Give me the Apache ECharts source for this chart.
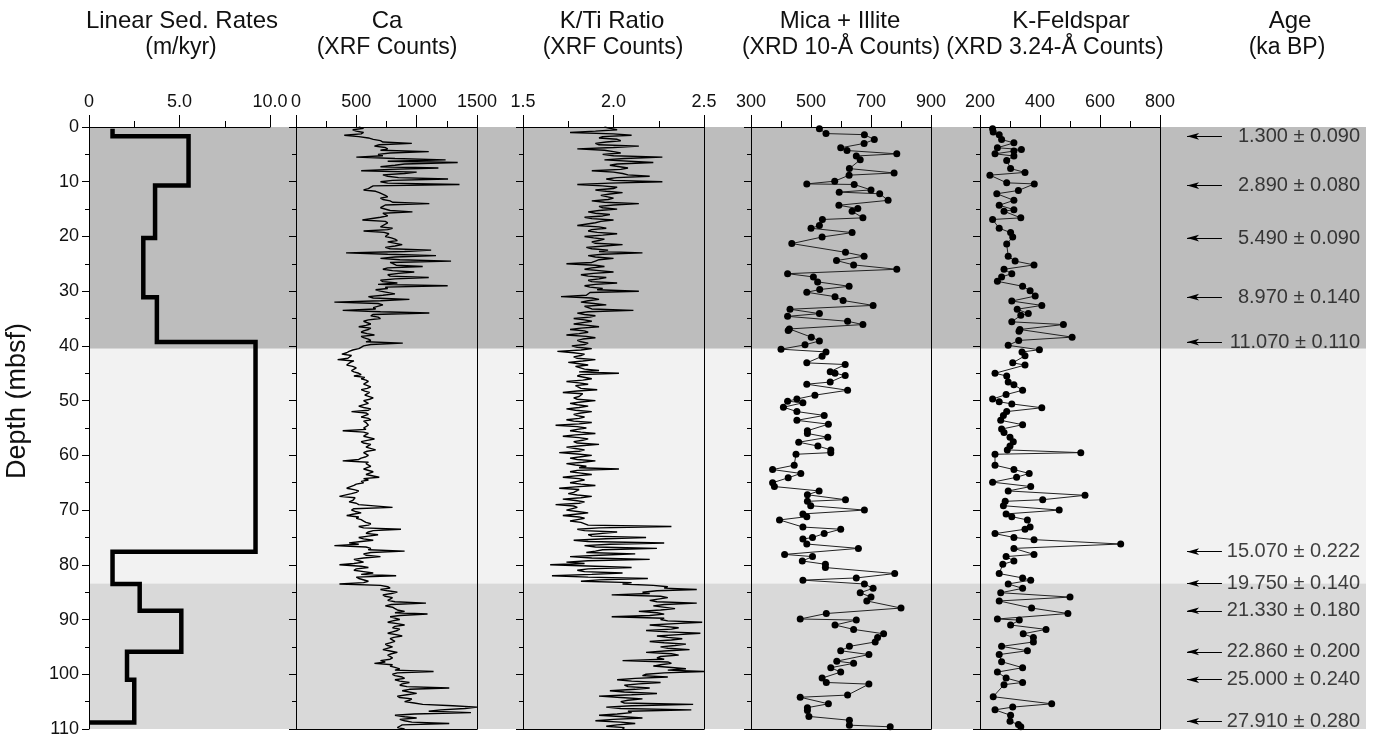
<!DOCTYPE html>
<html><head><meta charset="utf-8">
<script src="https://cdn.jsdelivr.net/npm/echarts@6/dist/echarts.min.js"></script>
<style>html,body{margin:0;padding:0;background:#fff}#c{width:1378px;height:739px}</style>
</head><body><div id="c"></div>
<script>
// ---------------- DATA ----------------
// Shaded depth intervals (m)
const bandTop    = [0, 40.5, 83.4];
const bandBottom = [40.5, 83.4, 110];

// Linear sedimentation rates (m/kyr) between depth boundaries (m)
const sedBounds = [0.3, 1.7, 10.7, 20.3, 31.1, 39.3, 77.6, 83.5, 88.4, 95.9, 101.0, 108.8];
const sedRates  = [1.3, 5.5, 3.65, 3.0, 3.75, 9.2, 1.3, 2.8, 5.1, 2.1, 2.5];

// Ca XRF counts at 0, 0.5, 1.0 ... 110 m
const caStartDepth = 0, caStep = 0.5;
const caVals = [
 520,470,560,400,600,
 700,960,650,760,1100,680,
 500,1240,1340,820,1180,540,900,760,1260,700,1355,
 620,560,690,
 740,700,780,1105,720,690,965,740,700,550,760,720,800,560,770,740,
 820,760,880,740,1120,415,1160,700,1285,780,1050,720,980,760,1100,700,
 840,1257,760,700,820,600,940,318,720,640,387,1105,620,700,
 560,620,520,600,540,650,560,620,885,560,520,
 440,380,470,345,450,420,500,460,520,480,
 540,600,560,620,540,610,570,640,560,600,520,620,460,600,540,620,580,600,560,
 387,600,560,650,540,620,580,660,560,600,540,387,580,620,560,640,580,690,600,560,
 480,420,520,460,360,500,440,520,800,460,540,420,500,
 560,620,520,870,600,680,520,640,440,318,620,900,560,700,480,
 560,360,600,480,640,830,520,600,360,
 760,700,840,720,800,760,1077,740,
 820,900,1090,780,860,760,900,800,840,760,880,780,
 820,740,800,720,840,760,800,700,650,780,860,1140,
 800,880,820,940,860,1270,
 880,1000,840,960,900,1050,
 1500,1200,1450,
 820,1000,900,1270,860,900
];
// Ca XRF counts at 0.25, 0.75 ... 109.75 m
const caValsMid = [
 560,500,540,520,
 640,720,690,740,700,780,
 720,820,760,900,700,780,1000,720,850,800,760,
 640,600,660,
 700,760,720,800,740,700,780,720,760,690,740,770,700,760,730,780,
 790,840,760,820,780,900,760,820,860,780,830,760,800,850,780,820,
 720,680,740,660,700,720,640,700,680,720,660,700,640,680,
 600,560,580,620,560,590,540,600,580,620,540,
 470,420,460,430,480,440,470,500,480,540,
 570,580,600,560,590,570,600,580,610,570,590,560,600,580,570,600,560,590,580,
 580,560,600,570,590,560,610,570,590,560,580,520,600,570,590,560,610,580,560,540,
 500,470,480,500,460,490,470,500,520,480,490,470,520,
 540,580,600,560,640,580,600,560,540,520,580,600,620,580,560,
 520,480,540,500,560,540,500,520,560,
 700,780,760,790,740,780,820,790,
 800,840,820,860,820,800,840,820,860,800,830,810,
 790,780,760,800,780,790,760,780,740,800,820,820,
 840,820,900,860,880,920,
 940,880,920,860,940,980,
 1300,1400,1100,
 980,900,860,960,880,840
];

// K/Ti ratio at 0, 0.5 ... 110 m
const ktiStartDepth = 0, ktiStep = 0.5;
const ktiVals = [
 1.95,2.02,1.76,2.10,1.92,2.04,1.90,2.14,1.80,2.00,1.94,
 2.27,1.95,2.22,1.98,2.08,1.88,2.05,2.20,1.96,2.27,
 1.80,2.02,1.90,2.05,1.93,2.00,1.88,2.14,1.92,2.02,
 1.86,1.98,1.84,2.00,1.90,1.80,1.96,1.86,2.02,1.84,1.95,1.88,2.05,1.85,1.97,2.16,1.86,2.00,1.90,1.74,
 1.95,1.84,2.00,1.82,1.96,1.86,2.02,1.84,1.94,2.14,
 1.86,1.71,1.92,1.82,1.96,1.84,2.11,1.80,1.90,1.78,
 1.88,1.78,1.92,1.76,1.86,1.74,1.90,1.80,1.86,1.77,
 1.88,1.69,1.84,1.78,1.90,1.75,1.86,1.78,1.92,2.03,1.80,1.88,1.74,1.86,1.78,1.91,1.72,1.84,1.78,1.90,
 1.76,1.86,1.74,1.88,1.78,1.84,1.74,1.88,1.68,1.85,
 1.76,1.90,1.72,1.86,1.78,1.92,1.74,1.84,1.70,1.88,1.76,1.90,1.74,1.85,2.03,1.76,1.88,1.72,1.84,1.76,1.90,1.70,1.82,1.75,1.88,1.72,1.84,1.68,1.80,1.74,
 1.86,1.72,1.84,1.76,1.82,
 2.32,1.80,2.02,1.86,2.18,1.78,2.28,1.84,2.24,1.90,2.12,1.76,2.20,1.74,1.65,2.10,1.80,2.05,1.66,2.19,1.82,2.05,
 2.30,2.46,2.16,1.99,2.30,2.20,2.46,2.22,2.34,2.14,2.28,1.99,2.26,
 2.49,2.20,2.36,2.18,2.48,2.24,2.38,2.20,2.40,2.26,2.42,2.18,2.36,2.24,2.05,2.32,2.22,2.40,2.50,2.18,
 2.30,2.02,2.26,2.06,2.20,1.98,2.24,1.92,2.16,2.04,
 2.44,1.96,2.43,2.10,1.92,2.16,1.90,2.12,1.96,2.05
];
// K/Ti ratio at 0.25, 0.75 ... 109.75 m
const ktiValsMid = [
 1.98,1.90,2.00,1.94,2.02,1.96,1.92,2.00,1.95,2.04,
 2.00,2.06,1.96,2.02,1.98,2.04,2.00,2.08,2.02,2.00,
 1.98,1.94,2.00,1.96,1.98,1.92,1.97,1.95,2.00,1.94,
 1.92,1.90,1.94,1.88,1.93,1.90,1.92,1.88,1.91,1.94,1.89,1.92,1.90,1.95,1.88,1.92,1.94,1.90,1.92,1.88,
 1.90,1.88,1.92,1.89,1.86,1.92,1.88,1.90,1.87,1.91,
 1.87,1.85,1.88,1.86,1.89,1.84,1.88,1.86,1.84,1.87,
 1.84,1.83,1.86,1.82,1.84,1.81,1.85,1.83,1.82,1.84,
 1.80,1.82,1.78,1.82,1.80,1.83,1.81,1.79,1.84,1.81,1.82,1.80,1.83,1.81,1.79,1.82,1.80,1.83,1.81,1.80,
 1.82,1.80,1.81,1.79,1.82,1.80,1.81,1.78,1.81,1.80,
 1.80,1.82,1.79,1.81,1.83,1.80,1.82,1.79,1.81,1.80,1.82,1.80,1.83,1.79,1.81,1.80,1.82,1.79,1.81,1.80,1.82,1.79,1.81,1.78,1.80,1.82,1.79,1.81,1.78,1.80,
 1.80,1.79,1.81,1.80,1.82,
 1.86,1.92,1.84,1.94,1.88,1.96,1.86,1.98,1.90,1.94,1.85,1.92,1.88,1.86,1.84,1.90,1.86,1.84,1.88,1.86,1.92,2.10,
 2.22,2.28,2.24,2.20,2.26,2.30,2.24,2.28,2.22,2.26,2.24,2.20,2.28,
 2.30,2.34,2.28,2.32,2.30,2.36,2.30,2.32,2.28,2.34,2.30,2.28,2.32,2.26,2.28,2.30,2.26,2.32,2.30,2.28,
 2.16,2.12,2.10,2.14,2.08,2.12,2.06,2.10,2.04,2.08,
 2.06,2.10,2.04,2.08,2.02,2.06,2.00,2.04,2.02,2.06
];

// Mica + Illite (XRD 10-Å counts): sample depths (m) and values
const micaDepth = [0.3,1.2,1.4,2.3,3.0,3.8,4.3,4.9,5.3,6.0,7.6,8.4,8.8,9.9,10.4,10.5,11.5,11.9,12.2,13.4,14.3,14.9,15.4,16.6,16.9,18.0,18.5,19.3,20.1,21.3,22.9,23.6,24.4,25.2,26.0,26.8,27.4,28.3,29.1,29.7,30.2,31.0,31.7,32.6,33.3,34.1,34.6,35.5,36.1,36.9,37.2,38.4,39.1,39.8,40.6,41.1,41.9,43.1,43.4,44.7,45.0,45.4,46.6,47.0,48.1,49.0,49.7,50.1,50.4,51.2,52.0,52.7,53.6,54.3,55.5,56.0,56.7,57.6,58.3,59.0,59.5,59.8,61.8,62.6,63.3,64.1,65.0,65.7,66.5,67.2,68.1,68.4,69.2,70.0,70.7,71.2,71.8,73.1,73.5,74.3,75.0,75.3,76.2,77.0,78.1,78.5,79.3,79.9,80.5,81.6,82.4,82.8,83.5,84.3,85.1,85.9,86.6,87.9,88.9,89.9,90.1,91.0,91.8,92.6,93.3,94.1,94.9,95.7,96.4,97.6,98.0,98.8,99.6,100.7,101.5,101.8,103.8,104.2,105.4,106.1,106.6,107.7,108.4,109.3,109.6];
const micaVal   = [528,550,678,711,677,599,620,786,651,664,628,777,627,579,486,644,700,594,729,757,593,656,637,673,538,528,500,637,537,436,615,677,585,642,786,422,508,522,627,529,486,580,607,707,430,528,422,622,673,428,424,501,528,480,400,550,537,486,614,564,580,614,564,486,622,513,453,422,473,408,453,544,453,558,488,488,556,459,523,566,566,450,444,372,466,424,372,378,527,488,615,488,499,678,473,486,395,473,599,544,505,473,486,658,412,505,471,548,548,779,651,473,678,707,664,700,686,800,551,464,651,580,642,742,722,714,628,599,693,586,642,566,599,537,551,693,622,464,558,488,488,493,628,628,764];

// K-Feldspar (XRD 3.24-Å counts): sample depths (m) and values
const kfDepth = [0.3,0.9,1.4,2.3,2.9,3.8,4.1,4.4,4.9,5.3,6.1,7.6,8.3,8.8,10.2,10.4,11.6,12.2,13.4,14.3,15.1,15.4,16.6,16.9,18.5,19.3,20.1,21.4,23.6,24.5,25.2,26.0,26.8,27.4,28.2,29.1,29.9,30.9,31.8,32.6,33.3,34.1,34.4,35.6,36.1,37.0,37.3,38.4,39.0,39.9,40.7,41.1,41.8,43.1,43.5,45.0,45.5,46.6,47.1,48.1,48.9,49.7,50.2,50.6,51.3,52.0,52.7,53.6,54.4,55.2,55.8,56.7,57.5,58.3,59.0,59.5,59.8,61.8,62.6,63.3,64.0,64.9,65.7,66.5,67.3,68.1,68.4,69.2,70.0,70.7,71.2,71.8,73.1,73.5,74.3,75.0,75.4,76.2,77.0,78.1,78.5,79.3,79.9,81.6,82.4,82.8,83.5,84.3,85.1,85.9,86.6,87.9,88.9,89.9,90.1,91.0,91.8,92.6,93.3,94.1,94.9,95.7,96.4,97.7,98.8,99.6,100.7,101.5,101.9,104.1,105.4,106.0,106.5,107.5,108.6,109.2,109.6];
const kfVal   = [242,244,264,272,313,258,338,313,250,313,289,302,350,233,289,381,328,256,313,264,313,280,336,242,264,302,309,289,294,317,380,280,306,272,258,342,367,384,306,406,324,361,336,306,478,333,330,507,329,294,398,340,350,309,350,250,289,294,313,342,287,242,264,306,406,289,278,269,342,272,280,300,311,300,291,536,250,250,313,364,322,242,369,294,550,409,284,278,464,287,306,358,367,350,250,313,380,669,313,380,287,313,276,264,342,369,294,342,269,500,264,372,493,258,331,302,420,344,378,378,272,358,264,272,342,258,287,342,280,244,439,309,250,302,300,328,336];

// Age control points (depth in m, label)
const ageDepths = [1.7, 10.7, 20.3, 31.1, 39.3, 77.6, 83.4, 88.4, 95.9, 101.0, 108.6];
const ageLabels = ['1.300 ± 0.090','2.890 ± 0.080','5.490 ± 0.090','8.970 ± 0.140','11.070 ± 0.110',
                   '15.070 ± 0.222','19.750 ± 0.140','21.330 ± 0.180','22.860 ± 0.200','25.000 ± 0.240','27.910 ± 0.280'];

// Column titles
const titles1 = ['Linear Sed. Rates','Ca','K/Ti Ratio','Mica + Illite','K-Feldspar','Age'];
const titles2 = ['(m/kyr)','(XRF Counts)','(XRF Counts)','(XRD 10-Å Counts)','(XRD 3.24-Å Counts)','(ka BP)'];

// ---------------- CHART ----------------
const FONT = 'Liberation Sans, Arial, Helvetica, sans-serif';
const bandColors = ['#bdbdbd', '#f2f2f2', '#d9d9d9'];
const TOP = 127, H = 602;

const sedPoints = [];
sedRates.forEach((r, i) => { sedPoints.push([r, sedBounds[i]]); sedPoints.push([r, sedBounds[i + 1]]); });
sedPoints.push([0, sedBounds[sedBounds.length - 1]]);

function mergeSeries(main, mid, start, step) {
  const out = [];
  main.forEach((v, i) => {
    out.push([v, start + i * step]);
    if (i < mid.length) out.push([mid[i], start + i * step + step / 2]);
  });
  return out;
}
const caData  = mergeSeries(caVals, caValsMid, caStartDepth, caStep);
const ktiData = mergeSeries(ktiVals, ktiValsMid, ktiStartDepth, ktiStep);
const micaData = micaVal.map((v, i) => [v, micaDepth[i]]);
const kfData = kfVal.map((v, i) => [v, kfDepth[i]]);

const panels = [
  {left: 89,  width: 181, min: 0,   max: 10,   interval: 5,   box: false, labels: true,
   fmt: v => v === 0 ? '0' : v.toFixed(1)},
  {left: 296, width: 181, min: 0,   max: 1500, interval: 500, box: true, fmt: v => String(v)},
  {left: 523, width: 181, min: 1.5, max: 2.5,  interval: 0.5, box: true, fmt: v => v.toFixed(1)},
  {left: 751, width: 180, min: 300, max: 900,  interval: 200, box: true, fmt: v => String(v)},
  {left: 980, width: 180, min: 200, max: 800,  interval: 200, box: true, fmt: v => String(v)}
];

const grid = [], xAxis = [], yAxis = [], series = [];
const blk = {color: '#000', width: 1};

// background bands
grid.push({left: 89, top: TOP, width: 1277, height: H});
xAxis.push({gridIndex: 0, type: 'value', min: 0, max: 1, show: false});
yAxis.push({gridIndex: 0, type: 'value', min: 0, max: 110, inverse: true, show: false});
series.push({
  type: 'custom', xAxisIndex: 0, yAxisIndex: 0, silent: true, z: 0,
  data: bandTop.map((t, i) => [t, bandBottom[i], i]),
  encode: {y: [0, 1]},
  renderItem: (params, api) => {
    const p0 = api.coord([0, api.value(0)]);
    const p1 = api.coord([1, api.value(1)]);
    return {type: 'rect', shape: {x: p0[0], y: p0[1], width: p1[0] - p0[0], height: p1[1] - p0[1]},
            style: {fill: bandColors[api.value(2)]}};
  }
});

panels.forEach((p, k) => {
  const g = grid.length;
  grid.push({left: p.left, top: TOP, width: p.width, height: H});
  p.xi = xAxis.length;
  xAxis.push({gridIndex: g, type: 'value', position: 'top', min: p.min, max: p.max, interval: p.interval,
    axisLine: {show: true, onZero: false, lineStyle: blk},
    axisTick: {show: true, length: 12, lineStyle: blk},
    minorTick: {show: true, splitNumber: 2, length: 6, lineStyle: blk},
    axisLabel: {show: true, formatter: p.fmt, fontSize: 18, color: '#111', margin: 16, fontFamily: FONT},
    splitLine: {show: false}, minorSplitLine: {show: false}, z: 5});
  if (p.box) {
    xAxis.push({gridIndex: g, type: 'value', position: 'bottom', min: p.min, max: p.max,
      axisLine: {show: true, onZero: false, lineStyle: blk}, axisTick: {show: false},
      axisLabel: {show: false}, splitLine: {show: false}, z: 5});
  }
  p.yi = yAxis.length;
  yAxis.push({gridIndex: g, type: 'value', min: 0, max: 110, interval: 10, inverse: true, position: 'left',
    axisLine: {show: true, onZero: false, lineStyle: blk},
    axisTick: {show: true, length: 7, lineStyle: blk},
    minorTick: {show: true, splitNumber: 2, length: 4, lineStyle: blk},
    axisLabel: {show: !!p.labels, fontSize: 18, color: '#111', margin: 10, fontFamily: FONT},
    splitLine: {show: false}, minorSplitLine: {show: false}, z: 5});
  if (p.box) {
    yAxis.push({gridIndex: g, type: 'value', min: 0, max: 110, inverse: true, position: 'right',
      axisLine: {show: true, onZero: false, lineStyle: blk}, axisTick: {show: false},
      axisLabel: {show: false}, splitLine: {show: false}, z: 5});
  }
});

series.push({type: 'line', xAxisIndex: panels[0].xi, yAxisIndex: panels[0].yi, data: sedPoints,
  showSymbol: false, lineStyle: {color: '#000', width: 4.5, join: 'miter'}, z: 3, animation: false});
series.push({type: 'line', xAxisIndex: panels[1].xi, yAxisIndex: panels[1].yi, data: caData,
  showSymbol: false, sampling: null, lineStyle: {color: '#000', width: 1.4}, z: 3, animation: false});
series.push({type: 'line', xAxisIndex: panels[2].xi, yAxisIndex: panels[2].yi, data: ktiData,
  showSymbol: false, lineStyle: {color: '#000', width: 1.4}, z: 3, animation: false});
series.push({type: 'line', xAxisIndex: panels[3].xi, yAxisIndex: panels[3].yi, data: micaData,
  symbol: 'circle', symbolSize: 7, itemStyle: {color: '#000'}, lineStyle: {color: '#222', width: 1}, z: 3, animation: false});
series.push({type: 'line', xAxisIndex: panels[4].xi, yAxisIndex: panels[4].yi, data: kfData,
  symbol: 'circle', symbolSize: 7, itemStyle: {color: '#000'}, lineStyle: {color: '#222', width: 1}, z: 3, animation: false});

// Age column
const ag = grid.length;
grid.push({left: 1170, top: TOP, width: 196, height: H});
const axi = xAxis.length;
xAxis.push({gridIndex: ag, type: 'value', min: 0, max: 100, show: false});
const ayi = yAxis.length;
yAxis.push({gridIndex: ag, type: 'value', min: 0, max: 110, inverse: true, show: false});
series.push({
  type: 'scatter', xAxisIndex: axi, yAxisIndex: ayi, symbolSize: 0, z: 4, animation: false,
  data: ageDepths.map(d => [97, d]),
  label: {show: true, position: 'left', distance: 0, fontSize: 20, color: '#111', fontFamily: FONT,
          formatter: p => ageLabels[p.dataIndex]},
  markLine: {silent: true, animation: false, symbol: ['none', 'arrow'], symbolSize: [5, 12],
    lineStyle: {color: '#000', width: 1.2, type: 'solid'}, label: {show: false},
    data: ageDepths.map(d => [{coord: [26.5, d]}, {coord: [8.7, d]}])}
});

// Titles
const titleX1 = [182, 387, 612, 840, 1071, 1290];
const titleX2 = [181, 387, 613, 841, 1055, 1287];
const graphic = [];
titles1.forEach((t, i) => graphic.push({type: 'text', x: titleX1[i], y: 21,
  style: {text: t, fontSize: 24, fontFamily: FONT, fill: '#111', align: 'center', verticalAlign: 'middle'}}));
titles2.forEach((t, i) => graphic.push({type: 'text', x: titleX2[i], y: 48,
  style: {text: t, fontSize: 23, fontFamily: FONT, fill: '#111', align: 'center', verticalAlign: 'middle'}}));
graphic.push({type: 'text', x: 18, y: 401, rotation: Math.PI / 2,
  style: {text: 'Depth (mbsf)', fontSize: 27, fontFamily: FONT, fill: '#111', align: 'center', verticalAlign: 'middle'}});

const chart = echarts.init(document.getElementById('c'), null, {renderer: 'canvas'});
chart.setOption({
  backgroundColor: '#fff', animation: false,
  textStyle: {fontFamily: FONT},
  grid, xAxis, yAxis, series, graphic
});
</script></body></html>
